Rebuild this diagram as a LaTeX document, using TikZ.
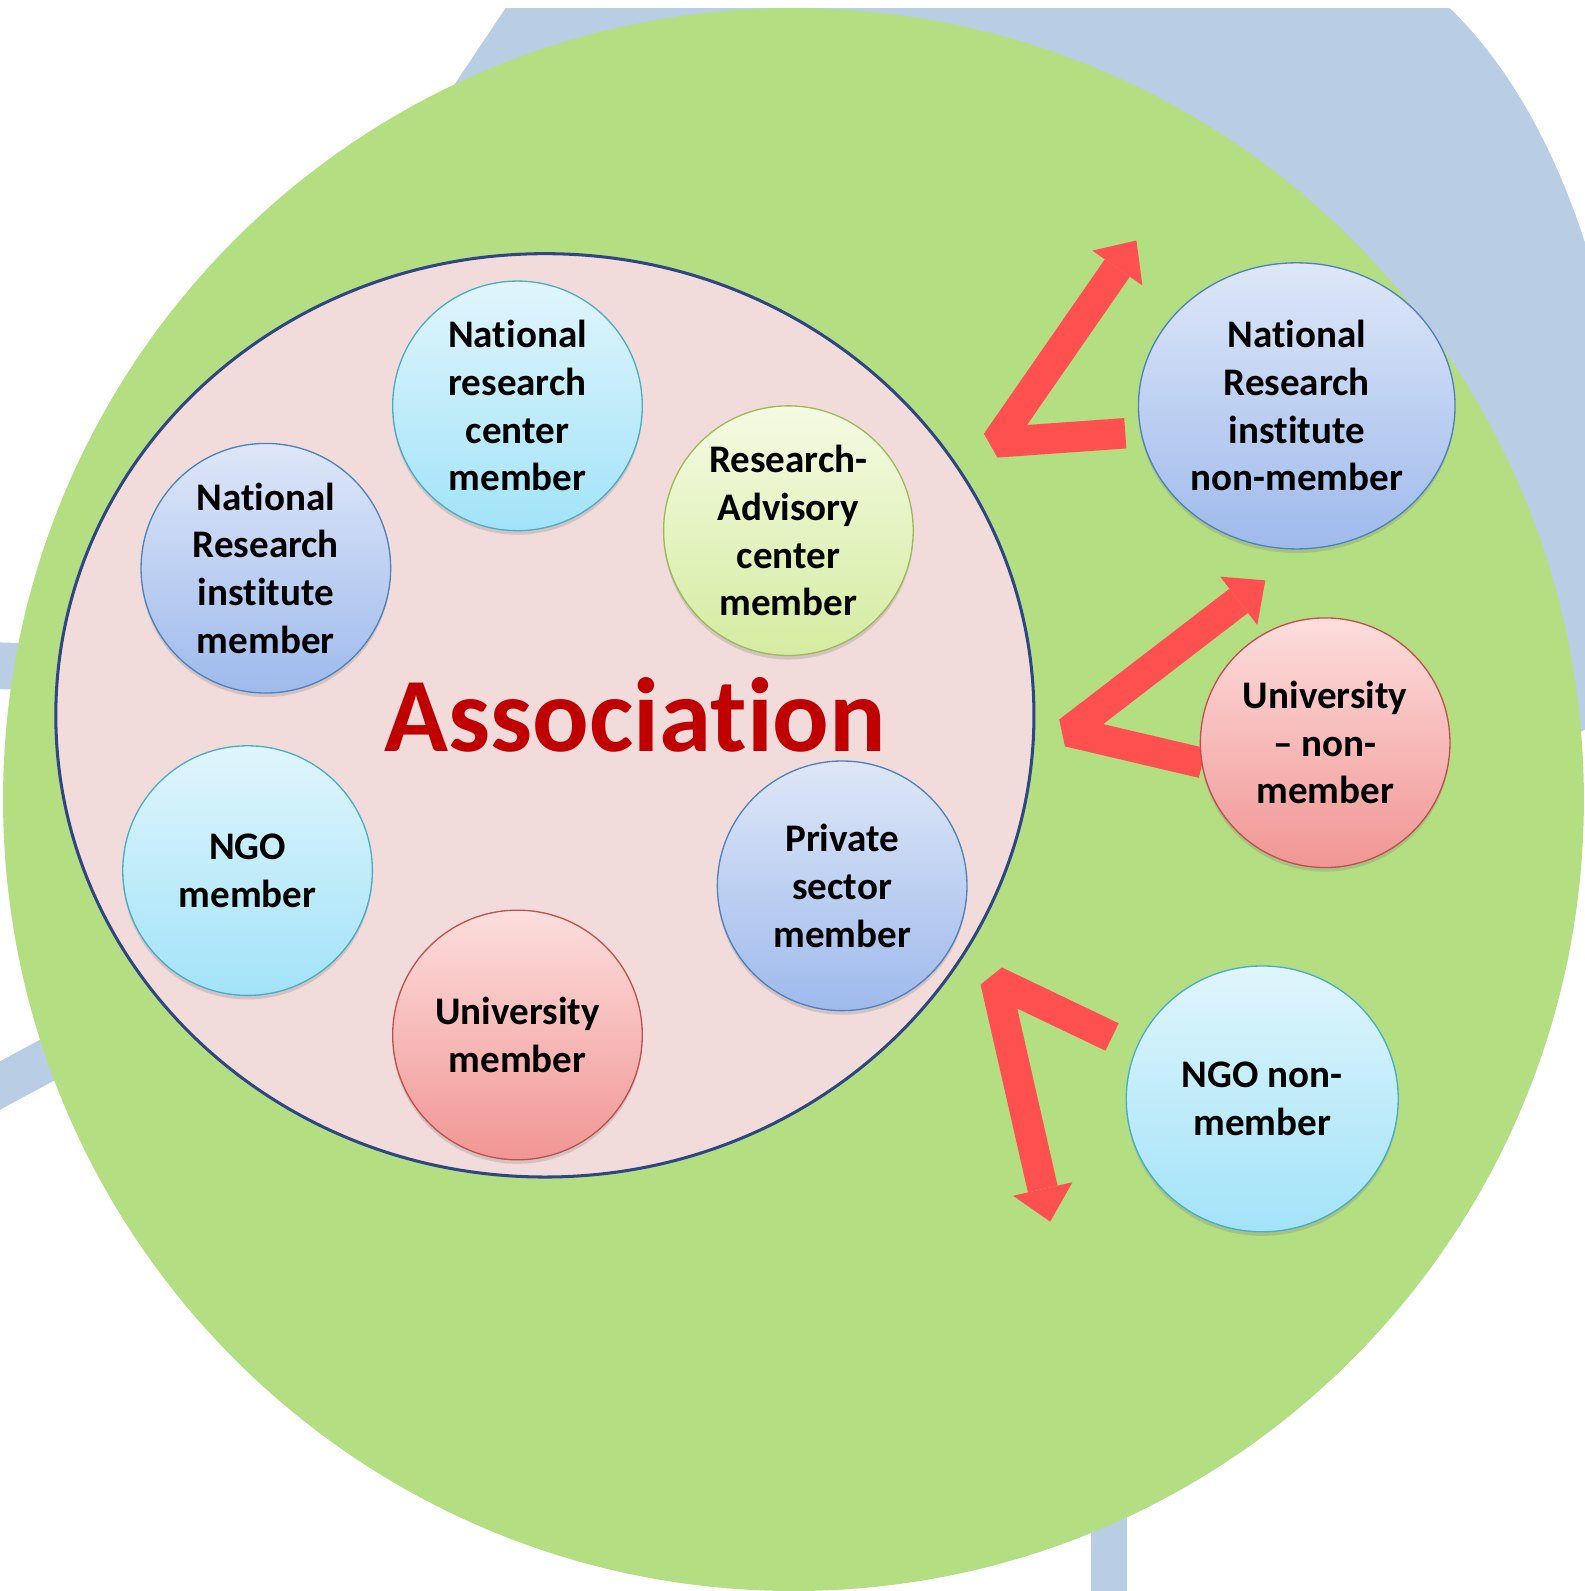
\documentclass[tikz,border=0pt]{standalone}
\usepackage{fontspec}
\setmainfont{Carlito}[Ligatures={TeX,NoCommon}]
\usetikzlibrary{shapes.geometric,shadows,arrows.meta}

\definecolor{bgblue}{RGB}{185,205,229}
\definecolor{outergreen}{RGB}{179,222,130}
\definecolor{assocfill}{RGB}{242,220,219}
\definecolor{assocline}{RGB}{47,70,130}
\definecolor{assoctext}{RGB}{192,0,0}
\definecolor{arrowred}{RGB}{255,80,80}
\definecolor{cyanTop}{RGB}{224,245,252}
\definecolor{cyanBot}{RGB}{162,227,249}
\definecolor{cyanLine}{RGB}{75,172,198}
\definecolor{blueTop}{RGB}{222,231,248}
\definecolor{blueBot}{RGB}{158,186,236}
\definecolor{blueLine}{RGB}{79,129,189}
\definecolor{greenTop}{RGB}{245,250,227}
\definecolor{greenBot}{RGB}{212,236,160}
\definecolor{greenLine}{RGB}{155,187,89}
\definecolor{redTop}{RGB}{252,222,221}
\definecolor{redBot}{RGB}{241,150,148}
\definecolor{redLine}{RGB}{192,80,77}

\tikzset{
  bubble/.style={circle, draw, line width=1.3pt, inner sep=0pt, minimum size=246pt,
    align=center, text=black, font=\fontsize{38.5}{47}\selectfont\bfseries,
    drop shadow={opacity=0.28, shadow xshift=0pt, shadow yshift=-4pt}},
  cyanbubble/.style={bubble, draw=cyanLine, top color=cyanTop, bottom color=cyanBot},
  bluebubble/.style={bubble, draw=blueLine, top color=blueTop, bottom color=blueBot},
  greenbubble/.style={bubble, draw=greenLine, top color=greenTop, bottom color=greenBot},
  redbubble/.style={bubble, draw=redLine, top color=redTop, bottom color=redBot},
  bentarrow/.style={draw=arrowred, line width=30pt, line join=bevel,
    -{Triangle[width=60pt,length=33pt,line width=0pt]}},
  spoke/.style={draw=bgblue}
}

\begin{document}
\begin{tikzpicture}[x=1pt,y=-1pt]
\useasboundingbox (0,0) rectangle (1562,1568);
\fill[white] (0,0) rectangle (1562,1568);

% background blue shapes
\begin{scope}
  \clip (0,8) rectangle (1562,1568);
  \fill[bgblue] (509,-8) -- (1411,-8) .. controls (1480,50) and (1530,140) .. (1562,239)
     -- (1600,300) -- (1600,700) -- (1200,900) -- (500,600) -- (440,95) -- cycle;
  \draw[spoke, line width=46pt] (-40,655) -- (200,662);
  \draw[spoke, line width=42pt] (-30,1086) -- (250,935);
  \draw[spoke, line width=36pt] (1093,1400) -- (1093,1600);
\end{scope}

% outer green circle
\node (outer) [ellipse, fill=outergreen, inner sep=0pt, minimum width=1558pt, minimum height=1560pt] at (782,788) {};

% association ring
\node (assoc) [ellipse, draw=assocline, line width=3pt, fill=assocfill, inner sep=0pt,
  minimum width=964pt, minimum height=910pt] at (537,705) {};
\node (assoclabel) [anchor=base, text=assoctext, font=\fontsize{104}{120}\selectfont\bfseries, inner sep=0pt] at (626,741) {Association};

% members
\node (nrc) [cyanbubble] at (510,400) {National\\research\\center\\member};
\node (nri) [bluebubble] at (262,560) {National\\Research\\institute\\member};
\node (rac) [greenbubble] at (777,523) {Research-\\Advisory\\center\\member};
\node (ngo) [cyanbubble] at (244,858) {NGO\\member};
\node (uni) [redbubble] at (510,1020) {University\\member};
\node (priv) [bluebubble] at (830,873) {Private\\sector\\member};

% arrows
\coordinate (a1s) at (1109,427);
\coordinate (a1v) at (982,436);
\coordinate (a1t) at (1120,237);
\coordinate (a2s) at (1185,752);
\coordinate (a2v) at (1053,721);
\coordinate (a2t) at (1247,572);
\coordinate (a3s) at (1096,1022);
\coordinate (a3v) at (981,967);
\coordinate (a3t) at (1035,1204);
\draw[bentarrow] (a1s) -- (a1v) -- (a1t);
\draw[bentarrow] (a2s) -- (a2v) -- (a2t);
\draw[bentarrow] (a3s) -- (a3v) -- (a3t);

% non-members
\node (nrinon) [bluebubble, ellipse, minimum width=312pt, minimum height=282pt] at (1278,400) {National\\Research\\institute\\non-member};
\node (uninon) [redbubble] at (1306,732) {University\\– non-\\member};
\node (ngonon) [cyanbubble, ellipse, minimum width=268pt, minimum height=262pt] at (1244,1083) {NGO non-\\member};
\end{tikzpicture}
\end{document}
